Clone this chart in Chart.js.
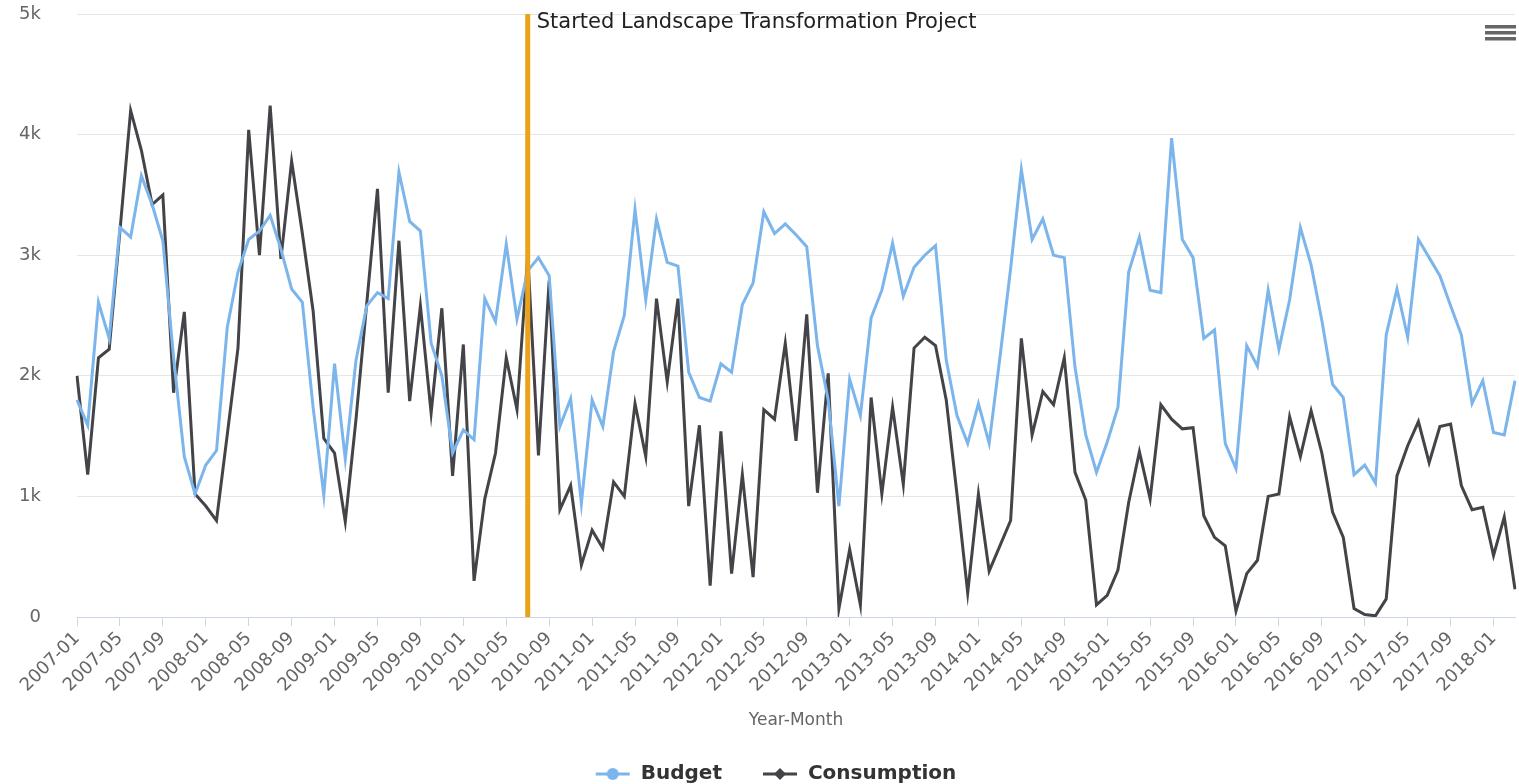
<!DOCTYPE html>
<html>
<head>
<meta charset="utf-8">
<script src="https://cdn.jsdelivr.net/npm/chart.js@4.4.1/dist/chart.umd.min.js"></script>
<style>
  html, body { margin: 0; padding: 0; background: #fff; }
  #wrap { width: 1519px; height: 784px; position: relative; }
</style>
</head>
<body>
<div id="wrap"><canvas id="budgetChart"></canvas></div>
<script>
// month categories, 2007-01 .. 2018-03
const months = [
  '2007-01','2007-02','2007-03','2007-04','2007-05','2007-06','2007-07','2007-08','2007-09','2007-10','2007-11','2007-12',
  '2008-01','2008-02','2008-03','2008-04','2008-05','2008-06','2008-07','2008-08','2008-09','2008-10','2008-11','2008-12',
  '2009-01','2009-02','2009-03','2009-04','2009-05','2009-06','2009-07','2009-08','2009-09','2009-10','2009-11','2009-12',
  '2010-01','2010-02','2010-03','2010-04','2010-05','2010-06','2010-07','2010-08','2010-09','2010-10','2010-11','2010-12',
  '2011-01','2011-02','2011-03','2011-04','2011-05','2011-06','2011-07','2011-08','2011-09','2011-10','2011-11','2011-12',
  '2012-01','2012-02','2012-03','2012-04','2012-05','2012-06','2012-07','2012-08','2012-09','2012-10','2012-11','2012-12',
  '2013-01','2013-02','2013-03','2013-04','2013-05','2013-06','2013-07','2013-08','2013-09','2013-10','2013-11','2013-12',
  '2014-01','2014-02','2014-03','2014-04','2014-05','2014-06','2014-07','2014-08','2014-09','2014-10','2014-11','2014-12',
  '2015-01','2015-02','2015-03','2015-04','2015-05','2015-06','2015-07','2015-08','2015-09','2015-10','2015-11','2015-12',
  '2016-01','2016-02','2016-03','2016-04','2016-05','2016-06','2016-07','2016-08','2016-09','2016-10','2016-11','2016-12',
  '2017-01','2017-02','2017-03','2017-04','2017-05','2017-06','2017-07','2017-08','2017-09','2017-10','2017-11','2017-12',
  '2018-01','2018-02','2018-03'
];

const budget = [
  1800, 1590, 2610, 2310, 3230, 3150, 3660, 3420, 3120, 2150, 1330, 1020,
  1260, 1380, 2400, 2860, 3130, 3200, 3330, 3050, 2720, 2610, 1740, 1010,
  2100, 1310, 2130, 2580, 2690, 2640, 3690, 3280, 3200, 2270, 2000, 1360,
  1550, 1470, 2640, 2450, 3090, 2470, 2870, 2980, 2830, 1580, 1810, 940,
  1800, 1580, 2200, 2500, 3380, 2630, 3300, 2940, 2910, 2030, 1820, 1790,
  2100, 2030, 2590, 2770, 3360, 3180, 3260, 3170, 3070, 2250, 1800, 920,
  1970, 1670, 2480, 2710, 3100, 2660, 2900, 3000, 3080, 2130, 1670, 1440,
  1770, 1440, 2150, 2890, 3710, 3130, 3300, 3000, 2980, 2070, 1510, 1200,
  1450, 1740, 2860, 3150, 2710, 2690, 3970, 3130, 2980, 2310, 2380, 1440,
  1230, 2250, 2080, 2710, 2220, 2630, 3230, 2920, 2460, 1930, 1820, 1180,
  1260, 1110, 2340, 2720, 2320, 3130, 2980, 2830, 2580, 2340, 1770, 1960,
  1530, 1510, 1960
];

const consumption = [
  2000, 1180, 2150, 2220, 3200, 4200, 3870, 3420, 3500, 1860, 2530, 1020,
  920, 800, 1510, 2230, 4040, 3000, 4240, 2970, 3780, 3180, 2540, 1480,
  1360, 790, 1640, 2600, 3550, 1860, 3120, 1790, 2580, 1690, 2560, 1170,
  2260, 300, 980, 1360, 2150, 1720, 3000, 1340, 2790, 890, 1090, 430,
  720, 570, 1120, 1000, 1770, 1330, 2640, 1950, 2640, 920, 1590, 260,
  1540, 360, 1180, 330, 1720, 1640, 2270, 1460, 2510, 1030, 2020, 70,
  560, 100, 1820, 1020, 1740, 1100, 2230, 2320, 2250, 1800, 1020, 200,
  1020, 380, 590, 800, 2310, 1510, 1870, 1760, 2150, 1200, 970, 100,
  180, 390, 950, 1370, 980, 1760, 1640, 1560, 1570, 840, 660, 590,
  50, 360, 470, 1000, 1020, 1660, 1330, 1710, 1360, 870, 660, 70,
  20, 10, 150, 1170, 1420, 1620, 1280, 1580, 1600, 1090, 890, 910,
  510, 830, 230
];

const yTicks = [0, 1000, 2000, 3000, 4000, 5000];
const projectStart = '2010-07';
const projectLabel = 'Started Landscape Transformation Project';

const BLUE = '#7cb5ec';
const DARK = '#434348';
const FONT = "'DejaVu Sans', Verdana, sans-serif";

// legend symbols: blank gap on the left, then a short line with a marker
function legendSymbol(color, shape) {
  const c = document.createElement('canvas');
  c.width = 72; c.height = 14;
  const g = c.getContext('2d');
  g.strokeStyle = color; g.lineWidth = 3;
  g.beginPath(); g.moveTo(37, 7); g.lineTo(71, 7); g.stroke();
  g.fillStyle = color;
  g.beginPath();
  if (shape === 'circle') {
    g.arc(54, 7, 6, 0, Math.PI * 2);
  } else {
    g.moveTo(54, 1); g.lineTo(60, 7); g.lineTo(54, 13); g.lineTo(48, 7); g.closePath();
  }
  g.fill();
  return c;
}
const symbols = [legendSymbol(BLUE, 'circle'), legendSymbol(DARK, 'diamond')];

// vertical project line + label + menu icon
const projectLine = {
  id: 'projectLine',
  afterDatasetsDraw(chart) {
    const { ctx, chartArea, scales } = chart;
    const x = scales.x.getPixelForValue(months.indexOf(projectStart));
    ctx.save();
    ctx.strokeStyle = '#eba21b';
    ctx.lineWidth = 5;
    ctx.beginPath();
    ctx.moveTo(x, chartArea.top);
    ctx.lineTo(x, chartArea.bottom);
    ctx.stroke();
    ctx.fillStyle = '#222';
    ctx.font = '21px ' + FONT;
    ctx.textBaseline = 'middle';
    ctx.fillText(projectLabel, x + 9, chartArea.top + 9);
    ctx.restore();
  },
  afterDraw(chart) {
    const ctx = chart.ctx;
    ctx.save();
    ctx.fillStyle = '#666';
    [25, 31, 37].forEach(y => ctx.fillRect(1485, y, 31, 3.5));
    ctx.restore();
  }
};

new Chart(document.getElementById('budgetChart'), {
  type: 'line',
  data: {
    labels: months,
    datasets: [{
      label: 'Budget',
      data: budget,
      borderColor: BLUE,
      backgroundColor: BLUE,
      borderWidth: 3,
      pointRadius: 0,
      tension: 0
    }, {
      label: 'Consumption',
      data: consumption,
      borderColor: DARK,
      backgroundColor: DARK,
      borderWidth: 3,
      pointRadius: 0,
      tension: 0
    }]
  },
  options: {
    responsive: true,
    maintainAspectRatio: false,
    animation: false,
    layout: { padding: { top: 0, right: 4, left: 0, bottom: -10 } },
    scales: {
      x: {
        offset: false,
        border: { color: '#ccd6eb', width: 1 },
        grid: {
          drawOnChartArea: false,
          drawTicks: true,
          tickLength: 9,
          tickColor: (c) => (c.index % 4 === 0 ? '#ccd6eb' : 'rgba(0,0,0,0)')
        },
        afterFit: (s) => { s.height = 143; s.paddingRight = 0; },
        ticks: {
          autoSkip: false,
          minRotation: 45,
          maxRotation: 45,
          padding: 2,
          color: '#666',
          font: { family: FONT, size: 18 },
          callback: function (value, index) {
            return index % 4 === 0 ? months[index] : '';
          }
        },
        title: {
          display: true,
          text: 'Year-Month',
          color: '#666',
          font: { family: FONT, size: 17 },
          padding: { top: 6, bottom: 29 }
        }
      },
      y: {
        min: 0,
        max: 5000,
        border: { display: false },
        grid: { color: '#e6e6e6', drawTicks: false },
        afterBuildTicks: (s) => { s.ticks = yTicks.map(v => ({ value: v })); },
        afterFit: (s) => { s.width = 77; s.paddingTop = 14; s.paddingBottom = 10; },
        ticks: {
          padding: 36,
          color: '#666',
          font: { family: FONT, size: 18 },
          callback: (v) => (v === 0 ? '0' : (v / 1000) + 'k')
        }
      }
    },
    plugins: {
      legend: {
        position: 'bottom',
        labels: {
          usePointStyle: true,
          pointStyleWidth: 72,
          boxWidth: 72,
          padding: 4,
          color: '#333',
          font: { family: FONT, size: 20, weight: 'bold' },
          generateLabels: (chart) => chart.data.datasets.map((d, i) => ({
            text: d.label,
            fillStyle: d.borderColor,
            strokeStyle: d.borderColor,
            pointStyle: symbols[i],
            fontColor: '#333',
            lineWidth: 0,
            datasetIndex: i,
            hidden: !chart.isDatasetVisible(i)
          }))
        }
      },
      tooltip: { enabled: false }
    }
  },
  plugins: [projectLine]
});
</script>
</body>
</html>
